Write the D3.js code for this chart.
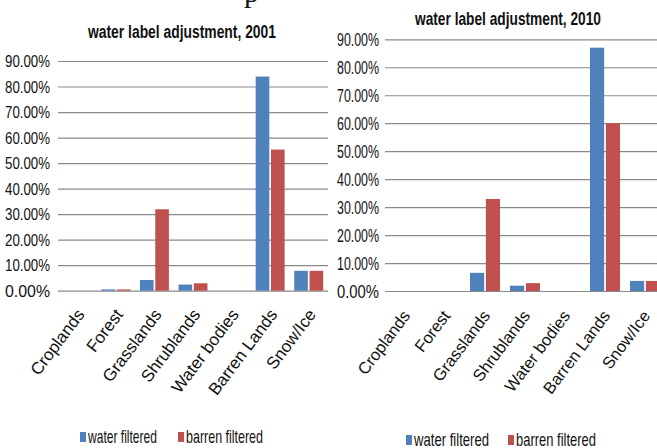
<!DOCTYPE html>
<html>
<head>
<meta charset="utf-8">
<script src="https://cdn.jsdelivr.net/npm/d3@7"></script>
<style>
  html, body { margin: 0; padding: 0; background: #fff; }
  svg { display: block; }
  text { font-family: "Liberation Sans", Arial, sans-serif; fill: #111; }
</style>
</head>
<body>
<svg id="chart" width="657" height="448"></svg>
<script>
// Land-cover classes on the x axis
const categories = ["Croplands", "Forest", "Grasslands", "Shrublands", "Water bodies", "Barren Lands", "Snow/Ice"];
const seriesNames = ["water filtered", "barren filtered"];
const seriesColors = ["#4F81BD", "#C0504D"];

// Share of pixels per class (%)
const water2001  = [0, 0.5, 4.2, 2.4, 0, 83.9, 7.8];
const barren2001 = [0, 0.5, 31.9, 2.9, 0, 55.3, 7.8];
const water2010  = [0, 0, 6.5, 1.9, 0, 87.0, 3.6];
const barren2010 = [0, 0, 32.9, 2.8, 0, 60.0, 3.6];

const yTicks = [0, 10, 20, 30, 40, 50, 60, 70, 80, 90];
const titles = ["water label adjustment, 2001", "water label adjustment, 2010"];

const svg = d3.select("#chart");

// tail of the caption line above the figure
svg.append("text")
  .attr("x", 244).attr("y", 2)
  .style("font-family", "'Liberation Serif', serif")
  .style("font-size", "30px")
  .text("p");

const panels = [
  { title: titles[0], series: [water2001, barren2001],
    left: 58, right: 328, yZero: 290.7, yTop: 61,
    labelX: 50, tickFont: 16, tickLen: 45,
    titleX: 182, titleY: 38, titleFont: 18, titleLen: 188,
    catFont: 17, catDx: 8, catDy: 24,
    legendY: 443, legendX: [80, 178], legendLen: [69, 77], legendFont: 19 },
  { title: titles[1], series: [water2010, barren2010],
    left: 385, right: 665, yZero: 291, yTop: 39.3,
    labelX: 379, tickFont: 18, tickLen: 42,
    titleX: 508, titleY: 25, titleFont: 19, titleLen: 186,
    catFont: 16.5, catDx: 6, catDy: 25,
    legendY: 446, legendX: [406, 508], legendLen: [75, 80], legendFont: 19 }
];

panels.forEach(p => {
  const g = svg.append("g");

  const x0 = d3.scaleBand()
    .domain(categories)
    .range([p.left, p.right])
    .paddingInner(0.25)
    .paddingOuter(0.125);

  const x1 = d3.scaleBand()
    .domain(d3.range(seriesNames.length))
    .range([0, x0.bandwidth()])
    .paddingInner(0.11);

  const y = d3.scaleLinear()
    .domain([0, 90])
    .range([p.yZero, p.yTop]);

  // gridlines + tick labels
  const yAxis = d3.axisLeft(y)
    .tickValues(yTicks)
    .tickSize(-(p.right - p.left))
    .tickPadding(p.left - p.labelX)
    .tickFormat(d => d3.format(".2f")(d) + "%");

  const ya = g.append("g")
    .attr("transform", `translate(${p.left},0)`)
    .call(yAxis);
  ya.select(".domain").remove();
  ya.selectAll(".tick line").attr("stroke", "#8a8a8a").attr("stroke-width", 1.2);
  ya.selectAll(".tick text")
    .style("font-size", p.tickFont + "px")
    .attr("textLength", p.tickLen)
    .attr("lengthAdjust", "spacingAndGlyphs")
    .attr("dy", "0.36em")
    .style("fill", "#111");

  // bars
  categories.forEach((c, i) => {
    p.series.forEach((vals, s) => {
      const v = vals[i];
      if (v <= 0) return;
      g.append("rect")
        .attr("x", x0(c) + x1(s))
        .attr("y", y(v))
        .attr("width", x1.bandwidth())
        .attr("height", y(0) - y(v))
        .attr("fill", seriesColors[s]);
    });
  });

  // category labels, slanted
  categories.forEach(c => {
    const cx = x0(c) + x0.bandwidth() / 2;
    g.append("text")
      .attr("transform", `translate(${cx + p.catDx},${p.yZero + p.catDy}) rotate(-53)`)
      .attr("text-anchor", "end")
      .style("font-size", p.catFont + "px")
      .text(c);
  });

  // title
  g.append("text")
    .attr("x", p.titleX).attr("y", p.titleY)
    .attr("text-anchor", "middle")
    .style("font-size", p.titleFont + "px")
    .style("font-weight", "bold")
    .attr("textLength", p.titleLen)
    .attr("lengthAdjust", "spacingAndGlyphs")
    .text(p.title);

  // legend
  seriesNames.forEach((name, s) => {
    const lx = p.legendX[s];
    g.append("rect")
      .attr("x", lx).attr("y", p.legendY - 11)
      .attr("width", 6).attr("height", 10)
      .attr("fill", seriesColors[s]);
    g.append("text")
      .attr("x", lx + 8).attr("y", p.legendY)
      .style("font-size", p.legendFont + "px")
      .attr("textLength", p.legendLen[s])
      .attr("lengthAdjust", "spacingAndGlyphs")
      .text(name);
  });
});
</script>
</body>
</html>
